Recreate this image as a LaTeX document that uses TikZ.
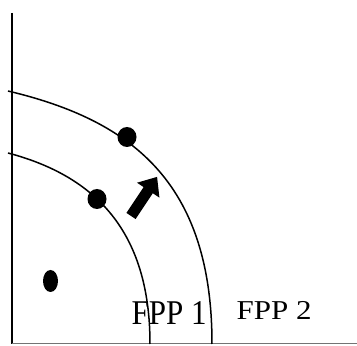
\documentclass[tikz,border=0pt]{standalone}
\usepackage{fontspec}
\setmainfont{Liberation Serif}
\usetikzlibrary{shapes.geometric}
\begin{document}
\begin{tikzpicture}[x=1pt,y=1pt,
  curve/.style={line width=1.5pt, black},
  axis/.style={line width=1.5pt, black},
  dotc/.style={ellipse, fill=black, inner sep=0pt, minimum width=19pt, minimum height=20pt},
  lbl/.style={anchor=base west, inner sep=0pt, font=\fontsize{31}{31}\selectfont}]
\useasboundingbox (0,0) rectangle (357,346);
% axes
\coordinate (O) at (12,2);
\coordinate (Ytop) at (12,333);
\coordinate (Xend) at (357,2);
\draw[axis] (Ytop) -- (O);
\draw[line width=1pt, black!55] (O) -- (Xend);
% frontier end points
\coordinate (i0) at (8,193);
\coordinate (i1) at (150,2);
\coordinate (o0) at (8,255);
\coordinate (o1) at (212,2);
% inner frontier FPP 1
\draw[curve] (i0) .. controls (95,170) and (150,115) .. (i1);
% outer frontier FPP 2
\draw[curve] (o0) .. controls (130,226) and (212,165) .. (o1);
% dots
\node[dotc] (dOut) at (127,209) {};
\node[dotc] (dIn) at (97,147) {};
\node[dotc, minimum width=15pt, minimum height=22pt] (dLow) at (50.5,65) {};
% thick arrow
\begin{scope}[shift={(131,130)}, rotate=56.3]
  \fill[black] (0,-5.5) -- (31,-5.5) -- (31,-13.5) -- (47,0) -- (31,13.5) -- (31,5.5) -- (0,5.5) -- cycle;
\end{scope}
% labels
\node[lbl, yscale=1.12] (l1) at (131.5,21) {FPP 1};
\node[lbl, yscale=0.88] (l2) at (236.5,26) {FPP 2};
\end{tikzpicture}
\end{document}
